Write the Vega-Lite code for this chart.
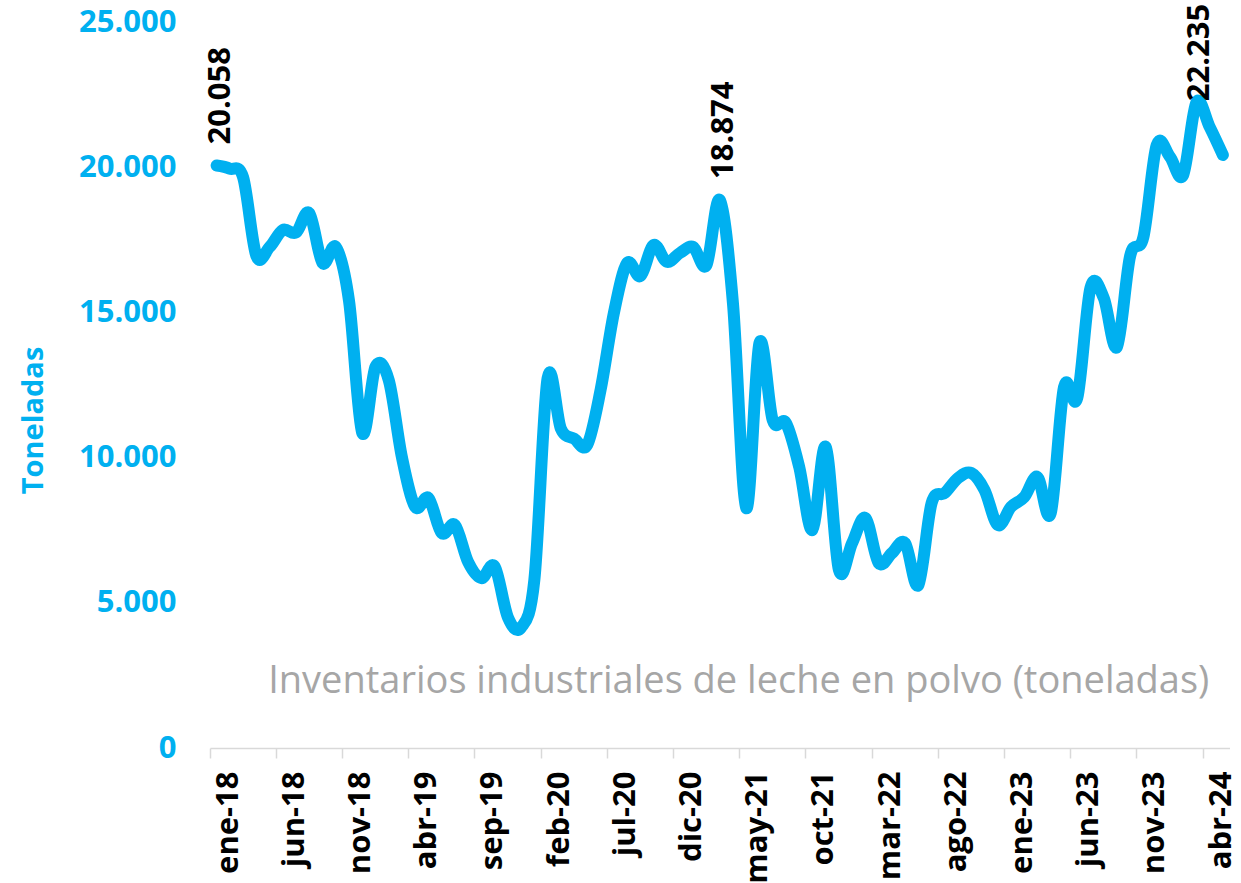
{
  "$schema": "https://vega.github.io/schema/vega-lite/v6.json",
  "width": 1019.5,
  "height": 726,
  "autosize": {"type": "none"},
  "padding": {"left": 210, "top": 22, "right": 11.5, "bottom": 135},
  "background": "white",
  "config": {
    "view": {"stroke": null},
    "font": "Open Sans",
    "locale": {"number": {"decimal": ",", "thousands": ".", "grouping": [3], "currency": ["$", ""]}}
  },
  "title": {
    "text": "Inventarios industriales de leche en polvo (toneladas)",
    "orient": "top", "anchor": "middle", "frame": "group",
    "font": "Open Sans", "fontSize": 38, "fontWeight": "normal", "color": "#A6A6A6",
    "baseline": "middle", "offset": 0, "dx": 19, "dy": 716
  },
  "data": {"values": [
    {"mes": "ene-18", "ton": 20058}, {"mes": "feb-18", "ton": 19950}, {"mes": "mar-18", "ton": 19650}, {"mes": "abr-18", "ton": 16950},
    {"mes": "may-18", "ton": 17250}, {"mes": "jun-18", "ton": 17840}, {"mes": "jul-18", "ton": 17750}, {"mes": "ago-18", "ton": 18420},
    {"mes": "sep-18", "ton": 16700}, {"mes": "oct-18", "ton": 17250}, {"mes": "nov-18", "ton": 15400}, {"mes": "dic-18", "ton": 10850},
    {"mes": "ene-19", "ton": 13130}, {"mes": "feb-19", "ton": 12670}, {"mes": "mar-19", "ton": 10000}, {"mes": "abr-19", "ton": 8300},
    {"mes": "may-19", "ton": 8610}, {"mes": "jun-19", "ton": 7400}, {"mes": "jul-19", "ton": 7680}, {"mes": "ago-19", "ton": 6400},
    {"mes": "sep-19", "ton": 5850}, {"mes": "oct-19", "ton": 6250}, {"mes": "nov-19", "ton": 4500}, {"mes": "dic-19", "ton": 4150},
    {"mes": "ene-20", "ton": 5800}, {"mes": "feb-20", "ton": 12740}, {"mes": "mar-20", "ton": 11000}, {"mes": "abr-20", "ton": 10650},
    {"mes": "may-20", "ton": 10450}, {"mes": "jun-20", "ton": 12330}, {"mes": "jul-20", "ton": 14970}, {"mes": "ago-20", "ton": 16700},
    {"mes": "sep-20", "ton": 16250}, {"mes": "oct-20", "ton": 17320}, {"mes": "nov-20", "ton": 16740}, {"mes": "dic-20", "ton": 17050},
    {"mes": "ene-21", "ton": 17250}, {"mes": "feb-21", "ton": 16630}, {"mes": "mar-21", "ton": 18874}, {"mes": "abr-21", "ton": 15300},
    {"mes": "may-21", "ton": 8260}, {"mes": "jun-21", "ton": 13950}, {"mes": "jul-21", "ton": 11290}, {"mes": "ago-21", "ton": 11190},
    {"mes": "sep-21", "ton": 9680}, {"mes": "oct-21", "ton": 7510}, {"mes": "nov-21", "ton": 10370}, {"mes": "dic-21", "ton": 6130},
    {"mes": "ene-22", "ton": 7060}, {"mes": "feb-22", "ton": 7920}, {"mes": "mar-22", "ton": 6370}, {"mes": "abr-22", "ton": 6710},
    {"mes": "may-22", "ton": 7060}, {"mes": "jun-22", "ton": 5610}, {"mes": "jul-22", "ton": 8430}, {"mes": "ago-22", "ton": 8780},
    {"mes": "sep-22", "ton": 9300}, {"mes": "oct-22", "ton": 9470}, {"mes": "nov-22", "ton": 8880}, {"mes": "dic-22", "ton": 7680},
    {"mes": "ene-23", "ton": 8300}, {"mes": "feb-23", "ton": 8640}, {"mes": "mar-23", "ton": 9330}, {"mes": "abr-23", "ton": 8090},
    {"mes": "may-23", "ton": 12430}, {"mes": "jun-23", "ton": 12050}, {"mes": "jul-23", "ton": 15850}, {"mes": "ago-23", "ton": 15500},
    {"mes": "sep-23", "ton": 13810}, {"mes": "oct-23", "ton": 16950}, {"mes": "nov-23", "ton": 17600}, {"mes": "dic-23", "ton": 20760},
    {"mes": "ene-24", "ton": 20360}, {"mes": "feb-24", "ton": 19730}, {"mes": "mar-24", "ton": 22235}, {"mes": "abr-24", "ton": 21390},
    {"mes": "may-24", "ton": 20420}
  ]},
  "encoding": {
    "x": {
      "field": "mes", "type": "ordinal", "sort": null,
      "scale": {"type": "band", "paddingInner": 0, "paddingOuter": 0},
      "axis": {
        "values": ["ene-18", "jun-18", "nov-18", "abr-19", "sep-19", "feb-20", "jul-20", "dic-20", "may-21", "oct-21", "mar-22", "ago-22", "ene-23", "jun-23", "nov-23", "abr-24"],
        "title": null, "grid": false, "bandPosition": 0,
        "labelAngle": -90, "labelAlign": "right", "labelBaseline": "middle",
        "labelFont": "Open Sans", "labelFontWeight": "bold", "labelFontSize": 31, "labelColor": "#000000",
        "labelPadding": 13, "labelOffset": 12, "labelOverlap": false, "labelBound": false, "labelFlush": false,
        "tickSize": 10, "tickColor": "#D9D9D9", "tickWidth": 1.5,
        "domainColor": "#D9D9D9", "domainWidth": 1.5
      }
    },
    "y": {
      "field": "ton", "type": "quantitative",
      "scale": {"domain": [0, 25000], "nice": false, "zero": true},
      "axis": {
        "values": [0, 5000, 10000, 15000, 20000, 25000], "format": ",d",
        "domain": false, "ticks": false, "grid": false,
        "labelFont": "Open Sans", "labelFontWeight": "bold", "labelFontSize": 31, "labelColor": "#00B0F0",
        "labelPadding": 34, "labelBaseline": "middle",
        "title": "Toneladas", "titleColor": "#00B0F0", "titleFont": "Open Sans", "titleFontWeight": "bold", "titleFontSize": 29,
        "titleX": -177, "titleY": 398, "titleAngle": -90, "titleAlign": "center", "titleBaseline": "middle"
      }
    }
  },
  "layer": [
    {
      "mark": {"type": "line", "interpolate": "cardinal", "color": "#00B0F0", "strokeWidth": 12, "strokeCap": "round", "strokeJoin": "round"}
    },
    {
      "transform": [{"filter": {"field": "mes", "oneOf": ["ene-18", "mar-21"]}}],
      "mark": {"type": "text", "angle": 270, "align": "left", "baseline": "middle", "dx": 21, "dy": 4, "font": "Open Sans", "fontWeight": "bold", "fontSize": 31, "color": "#000000"},
      "encoding": {"text": {"field": "ton", "type": "quantitative", "format": ",d"}}
    },
    {
      "transform": [{"filter": {"field": "mes", "oneOf": ["mar-24"]}}],
      "mark": {"type": "text", "angle": 270, "align": "left", "baseline": "middle", "dx": 1, "dy": 4, "font": "Open Sans", "fontWeight": "bold", "fontSize": 31, "color": "#000000"},
      "encoding": {"text": {"field": "ton", "type": "quantitative", "format": ",d"}}
    }
  ]
}
